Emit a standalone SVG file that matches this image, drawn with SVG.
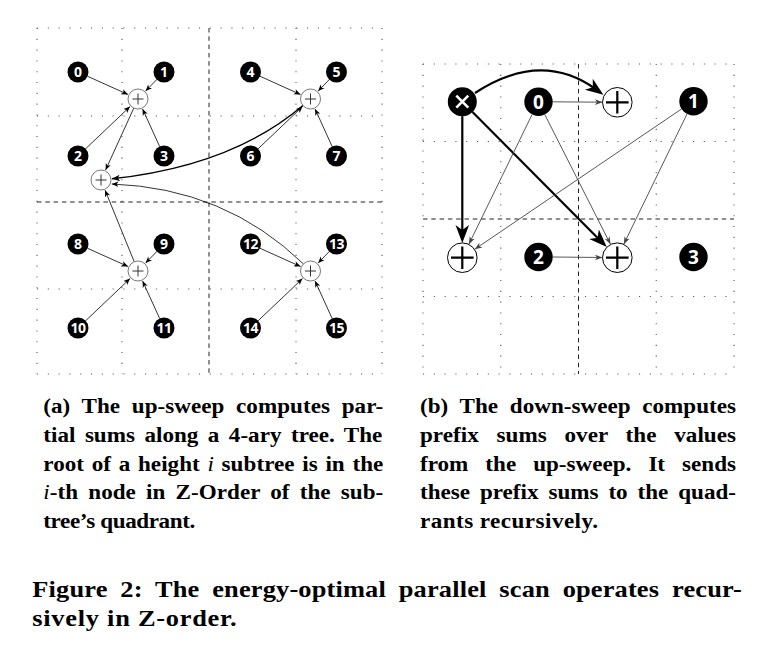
<svg xmlns="http://www.w3.org/2000/svg" width="776" height="661" viewBox="0 0 776 661">
<defs>
<style>
.dot{fill:none;stroke:#555;stroke-width:1.1;stroke-dasharray:1.1 9.7}
.dash{fill:none;stroke:#222;stroke-width:1;stroke-dasharray:4.5 3.8}
.bn{fill:#000}
.num{fill:#fff;font-family:"Open Sans","DejaVu Sans",sans-serif;font-weight:700;text-anchor:middle}
.na{font-size:14px}
.na2{font-size:14px;letter-spacing:-0.6px}
.nb{font-size:19px}
.pc{fill:#fff;stroke:#555;stroke-width:0.8}
.ps{stroke:#333;stroke-width:1;fill:none}
.pcb{fill:#fff;stroke:#000;stroke-width:1}
.psb{stroke:#000;stroke-width:2.2;fill:none}
.e{stroke:#000;stroke-width:0.8;fill:none;marker-end:url(#ma)}
.eg{stroke:#444;stroke-width:0.9;fill:none;marker-end:url(#mg)}
.ek{stroke:#000;stroke-width:2.2;fill:none;marker-end:url(#mk)}
.cap{font-family:"Liberation Serif","Times New Roman",serif;font-weight:700;fill:#000}
.it{font-style:italic;font-weight:400}
</style>
<marker id="ma" viewBox="-8 -4 9 8" refX="0" refY="0" markerWidth="9" markerHeight="8" markerUnits="userSpaceOnUse" orient="auto"><path d="M0,0 L-6.5,-2.7 L-4.8,0 L-6.5,2.7Z" fill="#000"/></marker>
<marker id="ma2" viewBox="-9 -5 10 10" refX="0" refY="0" markerWidth="10" markerHeight="10" markerUnits="userSpaceOnUse" orient="auto"><path d="M0,0 L-8,-3.3 L-6,0 L-8,3.3Z" fill="#000"/></marker>
<marker id="mg" viewBox="-9 -4 10 8" refX="0" refY="0" markerWidth="10" markerHeight="8" markerUnits="userSpaceOnUse" orient="auto"><path d="M0,0 L-7.5,-2.8 L-5.5,0 L-7.5,2.8Z" fill="#444"/></marker>
<marker id="mk" viewBox="-30 -10 32 20" refX="-10" refY="0" markerWidth="32" markerHeight="20" markerUnits="userSpaceOnUse" orient="auto"><path d="M0,0 L-18,-6.8 L-13,0 L-18,6.8Z" fill="#000"/></marker>
</defs>
<rect x="0" y="0" width="776" height="661" fill="#fff"/>

<g id="grid-a">
<path class="dot" d="M37,28V374M122,28V374M296,28V374M382,28V374M37,28H382M37,116H382M37,289H382M37,374H382"/>
<path class="dash" d="M209,28V374M37,202H382"/>
</g>
<g id="grid-b">
<path class="dot" d="M423,64V374M500.75,64V374M656.25,64V374M734,64V374M423,64H734M423,141.5H734M423,296.5H734M423,374H734"/>
<path class="dash" d="M578.5,64V374M423,219H734"/>
</g>

<g id="connectors">
<path class="e" d="M87.6,76.3L128,94.5"/>
<path class="e" d="M156.7,79.6L145.6,91.1"/>
<path class="e" d="M85.6,148.8L130,106.6"/>
<path class="e" d="M159.6,146.4L142.6,109"/>
<path class="e" d="M260.1,76.3L300.5,94.5"/>
<path class="e" d="M329.2,79.6L318.1,91.1"/>
<path class="e" d="M258.1,148.8L302.5,106.6"/>
<path class="e" d="M332.1,146.4L315.1,109"/>
<path class="e" d="M87.6,248.3L128,266.5"/>
<path class="e" d="M156.7,251.6L145.6,263.1"/>
<path class="e" d="M85.6,320.8L130,278.6"/>
<path class="e" d="M159.6,318.4L142.6,281"/>
<path class="e" d="M260.1,248.3L300.5,266.5"/>
<path class="e" d="M329.2,251.6L318.1,263.1"/>
<path class="e" d="M258.1,320.8L302.5,278.6"/>
<path class="e" d="M332.1,318.4L315.1,281"/>
<path class="e" d="M133.8,108.1L105.6,170"/>
<path class="e" d="M134.2,261.7L105.1,190.2"/>
<path d="M302.9,105.5Q232,166 111.9,178.8" fill="none" stroke="#000" stroke-width="1.4" marker-end="url(#ma2)"/>
<path class="e" d="M303.4,263.9Q225,188 111.8,184"/>

<path class="ek" d="M475,93Q541,50 595.3,88.9"/>
<path class="ek" d="M462.3,116.2L462.3,232.9"/>
<path class="ek" d="M472.5,112L599.7,240"/>
<path class="eg" d="M552.5,101.8L602.5,102.2"/>
<path class="eg" d="M532.1,114.5L468.9,244.2"/>
<path class="eg" d="M544.7,114.4L610.5,244.3"/>
<path class="eg" d="M681.5,109L474.7,249.3"/>
<path class="eg" d="M687.1,113.8L623.8,244.2"/>
<path class="eg" d="M552.5,257L602.5,257.5"/>
</g>

<g id="a-n0"><circle class="bn" cx="78" cy="72" r="10.5"/><text class="num na" x="78" y="77">0</text></g>
<g id="a-n1"><circle class="bn" cx="164" cy="72" r="10.5"/><text class="num na" x="164" y="77">1</text></g>
<g id="a-n2"><circle class="bn" cx="78" cy="156" r="10.5"/><text class="num na" x="78" y="161">2</text></g>
<g id="a-n3"><circle class="bn" cx="164" cy="156" r="10.5"/><text class="num na" x="164" y="161">3</text></g>
<g id="a-n4"><circle class="bn" cx="250.5" cy="72" r="10.5"/><text class="num na" x="250.5" y="77">4</text></g>
<g id="a-n5"><circle class="bn" cx="336.5" cy="72" r="10.5"/><text class="num na" x="336.5" y="77">5</text></g>
<g id="a-n6"><circle class="bn" cx="250.5" cy="156" r="10.5"/><text class="num na" x="250.5" y="161">6</text></g>
<g id="a-n7"><circle class="bn" cx="336.5" cy="156" r="10.5"/><text class="num na" x="336.5" y="161">7</text></g>
<g id="a-n8"><circle class="bn" cx="78" cy="244" r="10.5"/><text class="num na" x="78" y="249">8</text></g>
<g id="a-n9"><circle class="bn" cx="164" cy="244" r="10.5"/><text class="num na" x="164" y="249">9</text></g>
<g id="a-n10"><circle class="bn" cx="78" cy="328" r="10.5"/><text class="num na2" x="78" y="333">10</text></g>
<g id="a-n11"><circle class="bn" cx="164" cy="328" r="10.5"/><text class="num na2" x="164" y="333">11</text></g>
<g id="a-n12"><circle class="bn" cx="250.5" cy="244" r="10.5"/><text class="num na2" x="250.5" y="249">12</text></g>
<g id="a-n13"><circle class="bn" cx="336.5" cy="244" r="10.5"/><text class="num na2" x="336.5" y="249">13</text></g>
<g id="a-n14"><circle class="bn" cx="250.5" cy="328" r="10.5"/><text class="num na2" x="250.5" y="333">14</text></g>
<g id="a-n15"><circle class="bn" cx="336.5" cy="328" r="10.5"/><text class="num na2" x="336.5" y="333">15</text></g>

<g id="a-p0"><circle class="pc" cx="138" cy="99" r="10"/><path class="ps" d="M132.5,99H143.5M138,93.5V104.5"/></g>
<g id="a-p1"><circle class="pc" cx="310.5" cy="99" r="10"/><path class="ps" d="M305,99H316M310.5,93.5V104.5"/></g>
<g id="a-p2"><circle class="pc" cx="138" cy="271" r="10"/><path class="ps" d="M132.5,271H143.5M138,265.5V276.5"/></g>
<g id="a-p3"><circle class="pc" cx="310.5" cy="271" r="10"/><path class="ps" d="M305,271H316M310.5,265.5V276.5"/></g>
<g id="a-root"><circle class="pc" cx="101" cy="180" r="10"/><path class="ps" d="M95.5,180H106.5M101,174.5V185.5"/></g>

<g id="b-x"><circle class="bn" cx="462.3" cy="101.7" r="14.5"/><path d="M456.3,95.7L468.3,107.7M468.3,95.7L456.3,107.7" stroke="#fff" stroke-width="2.6" fill="none"/></g>
<g id="b-n0"><circle class="bn" cx="538.5" cy="101.7" r="14.2"/><text class="num nb" x="538.5" y="108.5">0</text></g>
<g id="b-n1"><circle class="bn" cx="693.5" cy="101.2" r="14.2"/><text class="num nb" x="693.5" y="108">1</text></g>
<g id="b-n2"><circle class="bn" cx="538.5" cy="257" r="14.2"/><text class="num nb" x="538.5" y="263.8">2</text></g>
<g id="b-n3"><circle class="bn" cx="693.5" cy="257" r="14.2"/><text class="num nb" x="693.5" y="263.8">3</text></g>
<g id="b-p-top"><circle class="pcb" cx="617.3" cy="102.3" r="14.8"/><path class="psb" d="M606,102.3H628.6M617.3,91V113.6"/></g>
<g id="b-p-left"><circle class="pcb" cx="462.3" cy="257.7" r="14.8"/><path class="psb" d="M451,257.7H473.6M462.3,246.4V269"/></g>
<g id="b-p-right"><circle class="pcb" cx="617.3" cy="257.7" r="14.8"/><path class="psb" d="M606,257.7H628.6M617.3,246.4V269"/></g>

<g id="caption-a" class="cap" font-size="21" transform="scale(1.1,1)">
<text x="39.36" y="413.5" textLength="309.1" lengthAdjust="spacing" style="word-spacing:5.25px">(a) The up-sweep computes par-</text>
<text x="39.36" y="442" textLength="308.2" lengthAdjust="spacing" style="word-spacing:3.4px">tial sums along a 4-ary tree. The</text>
<text x="39.36" y="470.6" textLength="309.1" lengthAdjust="spacing" style="word-spacing:1.7px">root of a height <tspan class="it">i</tspan> subtree is in the</text>
<text x="39.36" y="499.2" textLength="309.1" lengthAdjust="spacing" style="word-spacing:4px"><tspan class="it">i</tspan>-th node in Z-Order of the sub-</text>
<text x="39.36" y="527.8" textLength="138.2" lengthAdjust="spacing">tree’s quadrant.</text>
</g>
<g id="caption-b" class="cap" font-size="21" transform="scale(1.1,1)">
<text x="381.82" y="413.5" textLength="287.3" lengthAdjust="spacing" style="word-spacing:5.4px">(b) The down-sweep computes</text>
<text x="381.82" y="442" textLength="287.3" lengthAdjust="spacing" style="word-spacing:10.9px">prefix sums over the values</text>
<text x="381.82" y="470.6" textLength="287.3" lengthAdjust="spacing" style="word-spacing:10.2px">from the up-sweep. It sends</text>
<text x="381.82" y="499.2" textLength="287.3" lengthAdjust="spacing" style="word-spacing:3.8px">these prefix sums to the quad-</text>
<text x="381.82" y="527.8" textLength="161.8" lengthAdjust="spacing">rants recursively.</text>
</g>
<g id="figure-caption" class="cap" font-size="24" transform="scale(1.1,1)">
<text x="29.36" y="596.7" textLength="644.9" lengthAdjust="spacing" style="word-spacing:5.5px">Figure 2: The energy-optimal parallel scan operates recur-</text>
<text x="29.36" y="626" textLength="185.8" lengthAdjust="spacing">sively in Z-order.</text>
</g>
</svg>
